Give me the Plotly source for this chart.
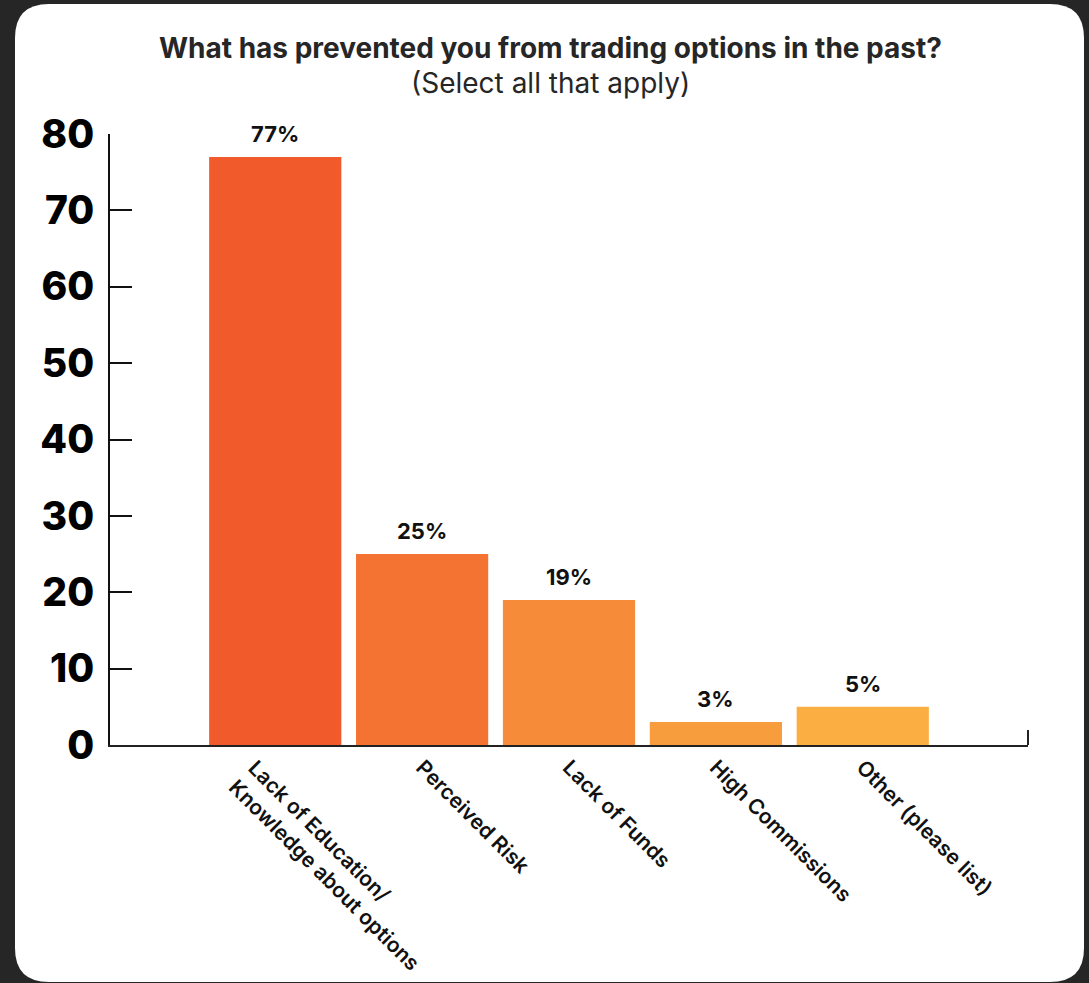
import plotly.graph_objects as go

# Survey responses
categories = [
    "Lack of Education/<br>Knowledge about options",
    "Perceived Risk",
    "Lack of Funds",
    "High Commissions",
    "Other (please list)",
]
values = [77, 25, 19, 3, 5]
value_labels = ["77%", "25%", "19%", "3%", "5%"]
bar_colors = ["#F15A2B", "#F47333", "#F68C39", "#F89D3D", "#FBAF42"]
y_ticks = [0, 10, 20, 30, 40, 50, 60, 70, 80]

W, H = 1089, 983
L, R, T, B = 110, 61, 134, 238
PW, PH = W - L - R, H - T - B


def px(x):
    return (x - L) / PW


def py(y):
    return (H - B - y) / PH


x_idx = list(range(len(categories)))
tick_font = dict(family="Inter", size=21, color="#111111", weight=600)

fig = go.Figure()
fig.add_trace(go.Bar(
    x=x_idx,
    y=values,
    marker=dict(color=bar_colors, line=dict(width=0)),
    width=0.9,
    hoverinfo="skip",
))

# value labels above bars
for i, (v, t) in enumerate(zip(values, value_labels)):
    fig.add_annotation(
        x=i, y=v, text=f"<b>{t}</b>", showarrow=False,
        yanchor="bottom", yshift=8,
        font=dict(family="Inter", size=22, color="#111111"),
    )

# the two-line category label is set as a rotated annotation under its bar
tick_text = [""] + categories[1:]
fig.add_annotation(
    x=0, xref="x", y=0, yref="paper", showarrow=False,
    text=categories[0], textangle=45, align="left",
    xanchor="left", yanchor="top", xshift=-54, yshift=-7,
    font=tick_font,
)

# white card with rounded corners
x0, y0, x1, y1, r = 15, 4, 1084, 982, 34
path = (
    f"M {px(x0 + r)} {py(y0)} L {px(x1 - r)} {py(y0)} "
    f"Q {px(x1)} {py(y0)} {px(x1)} {py(y0 + r)} "
    f"L {px(x1)} {py(y1 - r)} Q {px(x1)} {py(y1)} {px(x1 - r)} {py(y1)} "
    f"L {px(x0 + r)} {py(y1)} Q {px(x0)} {py(y1)} {px(x0)} {py(y1 - r)} "
    f"L {px(x0)} {py(y0 + r)} Q {px(x0)} {py(y0)} {px(x0 + r)} {py(y0)} Z"
)
fig.add_shape(type="path", path=path, xref="paper", yref="paper",
              fillcolor="white", line=dict(width=0), layer="below")

# small end tick at right of x axis
fig.add_shape(type="line", xref="paper", yref="paper",
              x0=1, x1=1, y0=0, y1=py(730),
              line=dict(color="#222222", width=2))

# title and subtitle
fig.add_annotation(
    x=px(550), y=py(48), xref="paper", yref="paper", showarrow=False,
    xanchor="center", yanchor="middle",
    text="<b>What has prevented you from trading options in the past?</b>",
    font=dict(family="Inter", size=28, color="#262626", weight=800),
)
fig.add_annotation(
    x=px(550), y=py(83), xref="paper", yref="paper", showarrow=False,
    xanchor="center", yanchor="middle",
    text="(Select all that apply)",
    font=dict(family="Inter", size=28, color="#262626"),
)

fig.update_layout(
    width=W, height=H,
    margin=dict(l=L, r=R, t=T, b=B),
    paper_bgcolor="#262626",
    plot_bgcolor="rgba(0,0,0,0)",
    showlegend=False,
    bargap=0.1,
)
fig.update_xaxes(
    range=[-1.125, 5.125],
    tickmode="array", tickvals=x_idx, ticktext=tick_text,
    tickangle=45,
    tickfont=tick_font,
    showline=True, linecolor="#222222", linewidth=2,
    ticks="", showgrid=False, zeroline=False,
)
fig.update_yaxes(
    range=[0, 80],
    tickmode="array", tickvals=y_ticks,
    ticks="inside", ticklen=22, tickwidth=2, tickcolor="#111111",
    tickfont=dict(family="Inter", size=39, color="#000000", weight=800),
    ticklabelstandoff=6,
    showline=True, linecolor="#111111", linewidth=2,
    showgrid=False, zeroline=False,
)

fig.write_html("out.html")
